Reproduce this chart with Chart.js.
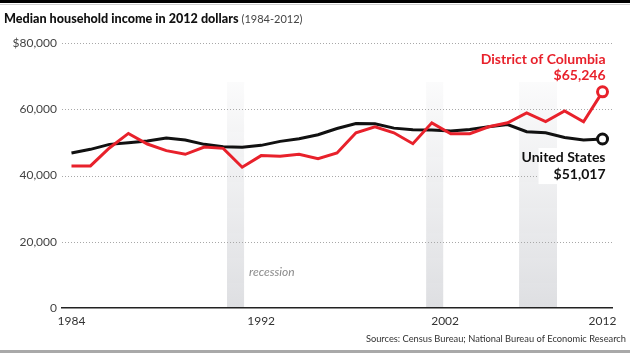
<!DOCTYPE html>
<html>
<head>
<meta charset="utf-8">
<script src="https://cdn.jsdelivr.net/npm/chart.js@4.4.1/dist/chart.umd.min.js"></script>
<style>
  body { margin: 0; background: #fff; }
</style>
</head>
<body>
<canvas id="income" width="630" height="353"></canvas>
<script>
// Years on the x axis (one point per year)
const years = [1984, 1985, 1986, 1987, 1988, 1989, 1990, 1991, 1992, 1993,
  1994, 1995, 1996, 1997, 1998, 1999, 2000, 2001, 2002, 2003,
  2004, 2005, 2006, 2007, 2008, 2009, 2010, 2011, 2012];

// Median household income, 2012 dollars
const dcIncome = [42900, 42900, 48300, 52700, 49500, 47500, 46400, 48600, 48200, 42500,
  46000, 45800, 46400, 45100, 46800, 52900, 54700, 52900, 49600, 55900,
  52600, 52600, 54700, 55900, 58900, 56300, 59500, 56200, 65246];
const usIncome = [46800, 47900, 49400, 49900, 50400, 51300, 50700, 49400, 48700, 48500,
  49100, 50300, 51100, 52300, 54200, 55700, 55600, 54300, 53800, 53700,
  53400, 53900, 54700, 55400, 53200, 52900, 51500, 50700, 51017];

// Shaded recession bands as placed on the picture (x axis units)
const recessionStart = [1992.2, 2002.7, 2007.6];
const recessionEnd = [1993.1, 2003.6, 2009.6];

// x axis labels as printed, and where they sit
const xTickValues = [1984, 1994, 2003.7, 2012];
const xTickLabels = ['1984', '1992', '2002', '2012'];

const RED = '#e8212b';
const BLACK = '#111111';
const FONT = 'Lato, "Open Sans", sans-serif';

const lastIdx = years.length - 1;

function toPoints(values) {
  return values.map((v, i) => ({ x: years[i], y: v }));
}

const recessionBands = {
  id: 'recessionBands',
  beforeDraw(chart) {
    const { ctx, chartArea, scales } = chart;
    const x = scales.x, y = scales.y;
    const top = chartArea.top + 39;
    const bottom = y.getPixelForValue(0);
    ctx.save();
    const grad = ctx.createLinearGradient(0, top, 0, bottom);
    grad.addColorStop(0, 'rgba(225,226,229,0.15)');
    grad.addColorStop(1, 'rgba(222,223,226,1)');
    ctx.fillStyle = grad;
    for (let i = 0; i < recessionStart.length; i++) {
      const x0 = x.getPixelForValue(recessionStart[i]);
      const x1 = x.getPixelForValue(recessionEnd[i]);
      ctx.fillRect(x0, top, x1 - x0, bottom - top);
    }
    // label next to the first band
    ctx.fillStyle = '#8a8a8a';
    ctx.font = 'italic 12px ' + FONT;
    ctx.textBaseline = 'alphabetic';
    ctx.fillText('recession', x.getPixelForValue(recessionEnd[0]) + 5, y.getPixelForValue(9800));
    ctx.restore();
  }
};

// dotted horizontal grid lines
const dottedGrid = {
  id: 'dottedGrid',
  beforeDatasetsDraw(chart) {
    const { ctx, chartArea, scales } = chart;
    const y = scales.y;
    ctx.save();
    ctx.fillStyle = '#a8a8a8';
    y.ticks.forEach((t) => {
      if (t.value === 0) return;
      const py = Math.round(y.getPixelForValue(t.value));
      for (let px = chartArea.left; px < chartArea.right; px += 3) {
        ctx.fillRect(px, py, 1, 1);
      }
    });
    ctx.restore();
  }
};

const labelsAndFrame = {
  id: 'labelsAndFrame',
  afterDraw(chart) {
    const { ctx, scales } = chart;
    const x = scales.x, y = scales.y;
    ctx.save();
    // top rule and bottom rule
    ctx.fillStyle = '#000';
    ctx.fillRect(0, 0, 630, 3);
    ctx.fillStyle = '#d0d0d0';
    ctx.fillRect(0, 4, 630, 1);
    ctx.fillStyle = '#a9a9a9';
    ctx.fillRect(0, 350, 630, 3);

    // title
    ctx.textBaseline = 'alphabetic';
    ctx.textAlign = 'left';
    ctx.fillStyle = '#111';
    ctx.font = '900 12.6px ' + FONT;
    const t1 = 'Median household income in 2012 dollars';
    ctx.fillText(t1, 4, 23);
    const w = ctx.measureText(t1).width;
    ctx.font = '11px ' + FONT;
    ctx.fillStyle = '#444';
    ctx.fillText('(1984-2012)', 4 + w + 3, 23);

    // sources
    ctx.textAlign = 'right';
    ctx.font = '9.3px ' + FONT;
    ctx.fillStyle = '#333';
    ctx.fillText('Sources: Census Bureau; National Bureau of Economic Research', 626, 342);

    // end labels
    const px = x.getPixelForValue(years[lastIdx]);
    const dcY = y.getPixelForValue(dcIncome[lastIdx]);
    const usY = y.getPixelForValue(usIncome[lastIdx]);
    ctx.font = 'bold 14px ' + FONT;
    ctx.fillStyle = RED;
    ctx.fillText('District of Columbia', px + 3, dcY - 28);
    ctx.fillText('$' + dcIncome[lastIdx].toLocaleString('en-US'), px + 3, dcY - 12);

    ctx.fillStyle = '#fff';
    ctx.fillRect(px - 64, usY + 9, 74, 36);
    ctx.fillStyle = BLACK;
    ctx.fillText('United States', px + 3, usY + 23);
    ctx.fillText('$' + usIncome[lastIdx].toLocaleString('en-US'), px + 3, usY + 40);
    ctx.restore();
  }
};

const lineStyle = (color) => ({
  borderColor: color,
  borderWidth: 3,
  tension: 0,
  pointRadius: (c) => (c.dataIndex === lastIdx ? 5 : 0),
  pointHoverRadius: 0,
  pointBackgroundColor: '#fff',
  pointBorderColor: color,
  pointBorderWidth: 3,
  fill: false
});

const incomeChart = new Chart(document.getElementById('income').getContext('2d'), {
  type: 'line',
  data: {
    datasets: [
      Object.assign({ label: 'District of Columbia', data: toPoints(dcIncome) }, lineStyle(RED)),
      Object.assign({ label: 'United States', data: toPoints(usIncome) }, lineStyle(BLACK))
    ]
  },
  options: {
    responsive: false,
    animation: false,
    layout: { padding: { top: 43, right: 18, bottom: 0, left: 0 } },
    plugins: {
      legend: { display: false },
      title: { display: false },
      tooltip: { enabled: false }
    },
    scales: {
      x: {
        type: 'linear',
        min: 1983.5,
        max: 2012.5,
        afterFit: (s) => { s.height = 45; },
        afterBuildTicks: (s) => { s.ticks = xTickValues.map(v => ({ value: v })); },
        grid: { display: false, drawTicks: false },
        border: { display: true, color: '#222', width: 1.5 },
        ticks: {
          autoSkip: false,
          maxRotation: 0,
          padding: 6,
          color: '#333',
          font: { family: FONT, size: 12 },
          callback: (v, i) => xTickLabels[i]
        }
      },
      y: {
        min: 0,
        max: 80000,
        afterFit: (s) => { s.width = 62; },
        grid: { display: false, drawTicks: false },
        border: { display: false },
        ticks: {
          stepSize: 20000,
          padding: 5,
          color: '#444',
          font: { family: FONT, size: 12 },
          callback: (v) => (v === 80000 ? '$80,000' : v.toLocaleString('en-US'))
        }
      }
    }
  },
  plugins: [recessionBands, dottedGrid, labelsAndFrame]
});
</script>
</body>
</html>
